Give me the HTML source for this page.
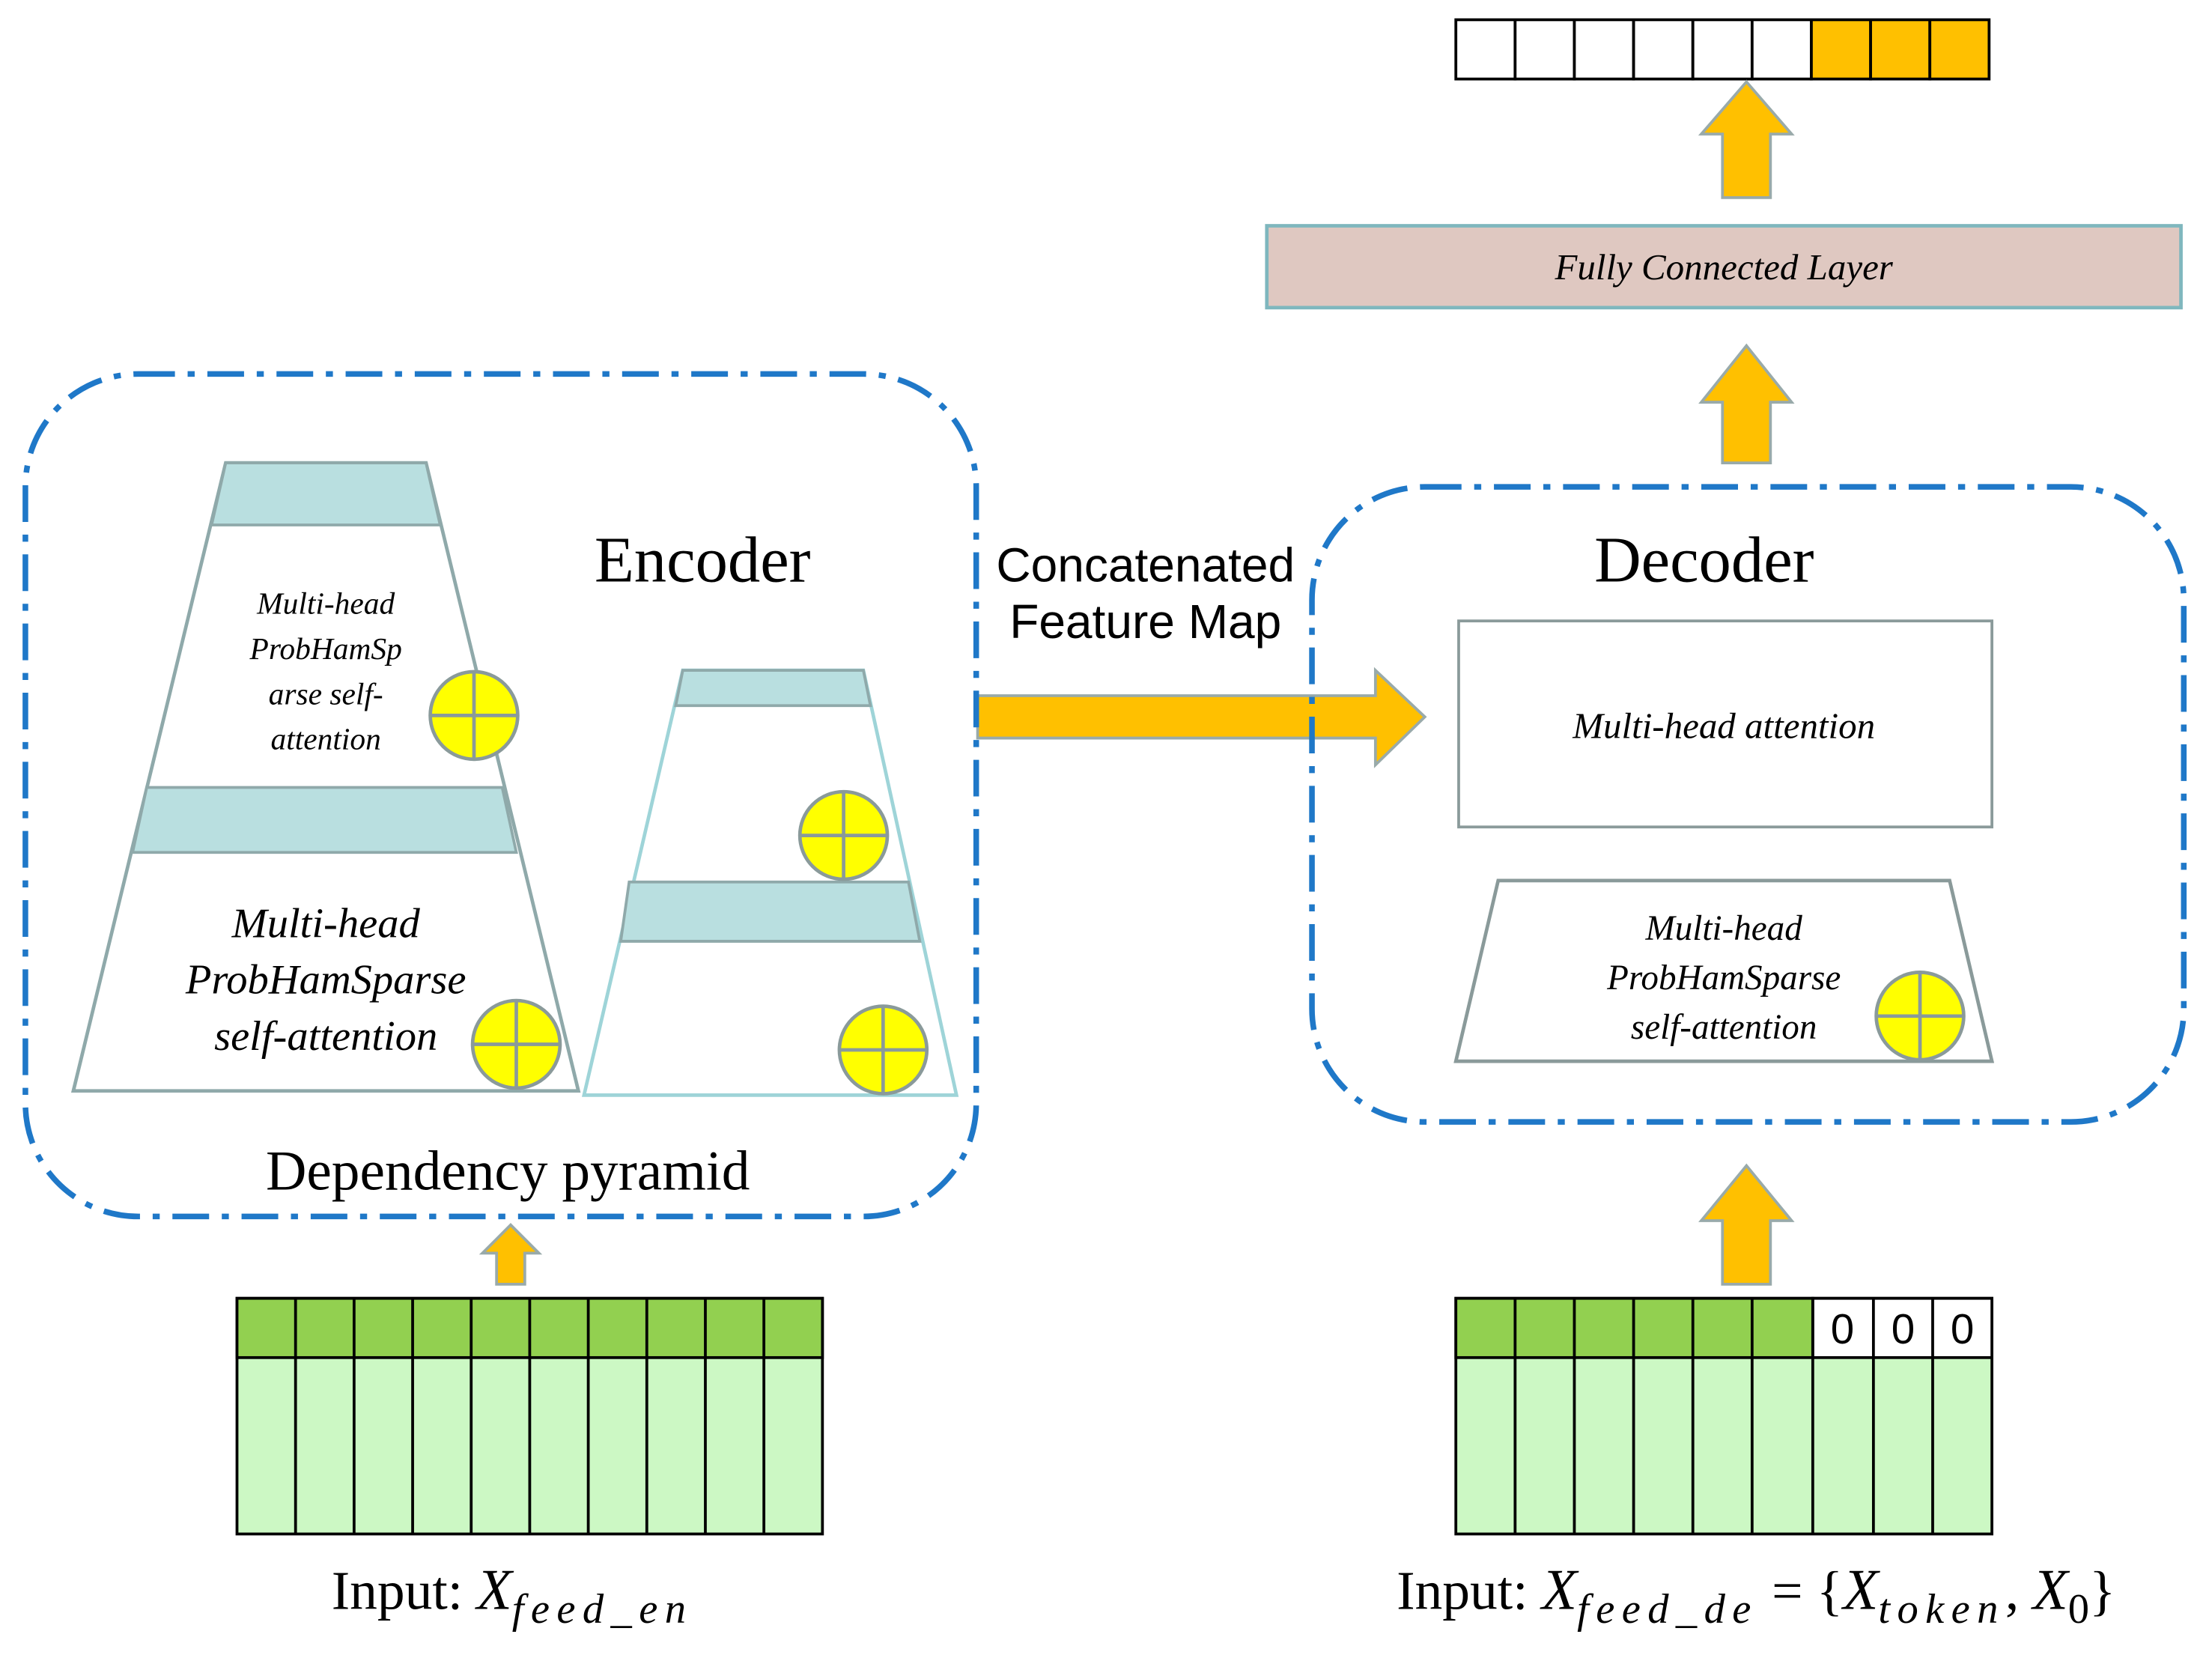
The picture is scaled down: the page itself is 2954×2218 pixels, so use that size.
<!DOCTYPE html>
<html><head><meta charset="utf-8"><style>html,body{margin:0;padding:0;background:#fff}svg{display:block}</style></head><body>
<svg width="2954" height="2218" viewBox="0 0 1568 1177" preserveAspectRatio="none" xmlns="http://www.w3.org/2000/svg">
<defs>
<g id="cp"><circle r="31" fill="#FFFF00" stroke="#8a9a9a" stroke-width="2.5"/><line x1="-31" y1="0" x2="31" y2="0" stroke="#8a9a9a" stroke-width="2.5"/><line x1="0" y1="-31" x2="0" y2="31" stroke="#8a9a9a" stroke-width="2.5"/></g>
</defs>
<rect width="1568" height="1177" fill="#fff"/>
<g stroke="#000" stroke-width="2">
<rect x="1032" y="14" width="42" height="42" fill="#fff"/><rect x="1074" y="14" width="42" height="42" fill="#fff"/><rect x="1116" y="14" width="42" height="42" fill="#fff"/><rect x="1158" y="14" width="42" height="42" fill="#fff"/><rect x="1200" y="14" width="42" height="42" fill="#fff"/><rect x="1242" y="14" width="42" height="42" fill="#fff"/>
<rect x="1284" y="14" width="42" height="42" fill="#FFC000"/><rect x="1326" y="14" width="42" height="42" fill="#FFC000"/><rect x="1368" y="14" width="42" height="42" fill="#FFC000"/>
</g>
<g fill="#FFC000" stroke="#9aa" stroke-width="2">
<path d="M1238 58 L1270 95 L1255 95 L1255 140 L1221 140 L1221 95 L1206 95 Z"/>
<path d="M1238 245 L1270 285 L1255 285 L1255 328 L1221 328 L1221 285 L1206 285 Z"/>
<path d="M1238 826 L1270 865 L1255 865 L1255 910 L1221 910 L1221 865 L1206 865 Z"/>
<path d="M362 868 L382 888 L372 888 L372 910 L352 910 L352 888 L342 888 Z"/>
<path d="M693 493 L975 493 L975 475 L1010 508 L975 542 L975 523 L693 523 Z"/>
</g>
<rect x="898" y="160" width="648" height="58" fill="#DFC8C1" stroke="#7FB7BE" stroke-width="2.5"/>
<text x="1222" y="198" font-family="Liberation Serif, serif" font-style="italic" font-size="26" text-anchor="middle">Fully Connected Layer</text>
<g fill="none" stroke="#1F78C8" stroke-width="4" stroke-dasharray="26 9 5 9">
<rect x="18" y="265" width="674" height="597" rx="80"/>
<rect x="930" y="345" width="618" height="450" rx="80"/>
</g>
<text x="498" y="412" font-family="Liberation Serif, serif" font-size="46" text-anchor="middle">Encoder</text>
<text x="1208" y="412" font-family="Liberation Serif, serif" font-size="46" text-anchor="middle">Decoder</text>
<text x="812" y="412" font-family="Liberation Sans, sans-serif" font-size="34" text-anchor="middle">Concatenated</text>
<text x="812" y="452" font-family="Liberation Sans, sans-serif" font-size="34" text-anchor="middle">Feature Map</text>
<polygon points="160,328 302,328 410,773 52,773" fill="#fff" stroke="#8FA9AA" stroke-width="2.5"/>
<polygon points="160,328 302,328 312,372 150,372" fill="#B9DFE0" stroke="#8FA9AA" stroke-width="2"/>
<polygon points="104,558 356,558 366,604 94,604" fill="#B9DFE0" stroke="#8FA9AA" stroke-width="2"/>
<g font-family="Liberation Serif, serif" font-style="italic" font-size="22" text-anchor="middle">
<text x="231" y="435">Multi-head</text><text x="231" y="467">ProbHamSp</text><text x="231" y="499">arse self-</text><text x="231" y="531">attention</text>
</g>
<g font-family="Liberation Serif, serif" font-style="italic" font-size="30" text-anchor="middle">
<text x="231" y="664">Multi-head</text><text x="231" y="704">ProbHamSparse</text><text x="231" y="744">self-attention</text>
</g>
<use href="#cp" x="336" y="507"/><use href="#cp" x="366" y="740"/>
<polygon points="484,475 612,475 678,776 414,776" fill="#fff" stroke="#9ED4D8" stroke-width="2.5"/>
<polygon points="484,475 612,475 617,500 479,500" fill="#B9DFE0" stroke="#8FA9AA" stroke-width="2"/>
<polygon points="446,625 644,625 652,667 440,667" fill="#B9DFE0" stroke="#8FA9AA" stroke-width="2"/>
<use href="#cp" x="598" y="592"/><use href="#cp" x="626" y="744"/>
<text x="360" y="843" font-family="Liberation Serif, serif" font-size="40" text-anchor="middle">Dependency pyramid</text>
<rect x="1034" y="440" width="378" height="146" fill="#fff" stroke="#8a9a9a" stroke-width="2"/>
<text x="1222" y="523" font-family="Liberation Serif, serif" font-style="italic" font-size="26" text-anchor="middle">Multi-head attention</text>
<polygon points="1062,624 1382,624 1412,752 1032,752" fill="#fff" stroke="#8a9a9a" stroke-width="2.5"/>
<g font-family="Liberation Serif, serif" font-style="italic" font-size="25" text-anchor="middle">
<text x="1222" y="666">Multi-head</text><text x="1222" y="701">ProbHamSparse</text><text x="1222" y="736">self-attention</text>
</g>
<use href="#cp" x="1361" y="720"/>
<g stroke="#000" stroke-width="2">
<rect x="168" y="920" width="415" height="167" fill="#CCF8C4"/>
<rect x="168" y="920" width="415" height="42" fill="#92D050"/>
<path d="M209.5 920V1087M251 920V1087M292.5 920V1087M334 920V1087M375.5 920V1087M417 920V1087M458.5 920V1087M500 920V1087M541.5 920V1087"/>
</g>
<text x="235" y="1140" font-family="Liberation Serif, serif" font-size="39">Input: <tspan font-style="italic" font-size="41">X</tspan><tspan font-style="italic" font-size="30" dy="10" letter-spacing="5">feed_en</tspan></text>
<g stroke="#000" stroke-width="2">
<rect x="1032" y="920" width="380" height="167" fill="#CCF8C4"/>
<rect x="1032" y="920" width="253" height="42" fill="#92D050"/>
<rect x="1285" y="920" width="127" height="42" fill="#fff"/>
<path d="M1074 920V1087M1116 920V1087M1158 920V1087M1200 920V1087M1242 920V1087M1285 920V1087M1328 920V1087M1370 920V1087"/>
</g>
<g font-family="Liberation Sans, sans-serif" font-size="30" text-anchor="middle">
<text x="1306" y="952">0</text><text x="1349" y="952">0</text><text x="1391" y="952">0</text>
</g>
<text x="990" y="1140" font-family="Liberation Serif, serif" font-size="39">Input: <tspan font-style="italic" font-size="41">X</tspan><tspan font-style="italic" font-size="30" dy="10" letter-spacing="5">feed_de</tspan><tspan dy="-10"> = {</tspan><tspan font-style="italic" font-size="41">X</tspan><tspan font-style="italic" font-size="30" dy="10" letter-spacing="5">token</tspan><tspan dy="-10">, </tspan><tspan font-style="italic" font-size="41">X</tspan><tspan font-size="30" dy="10">0</tspan><tspan dy="-10">}</tspan></text>
</svg>
</body></html>
